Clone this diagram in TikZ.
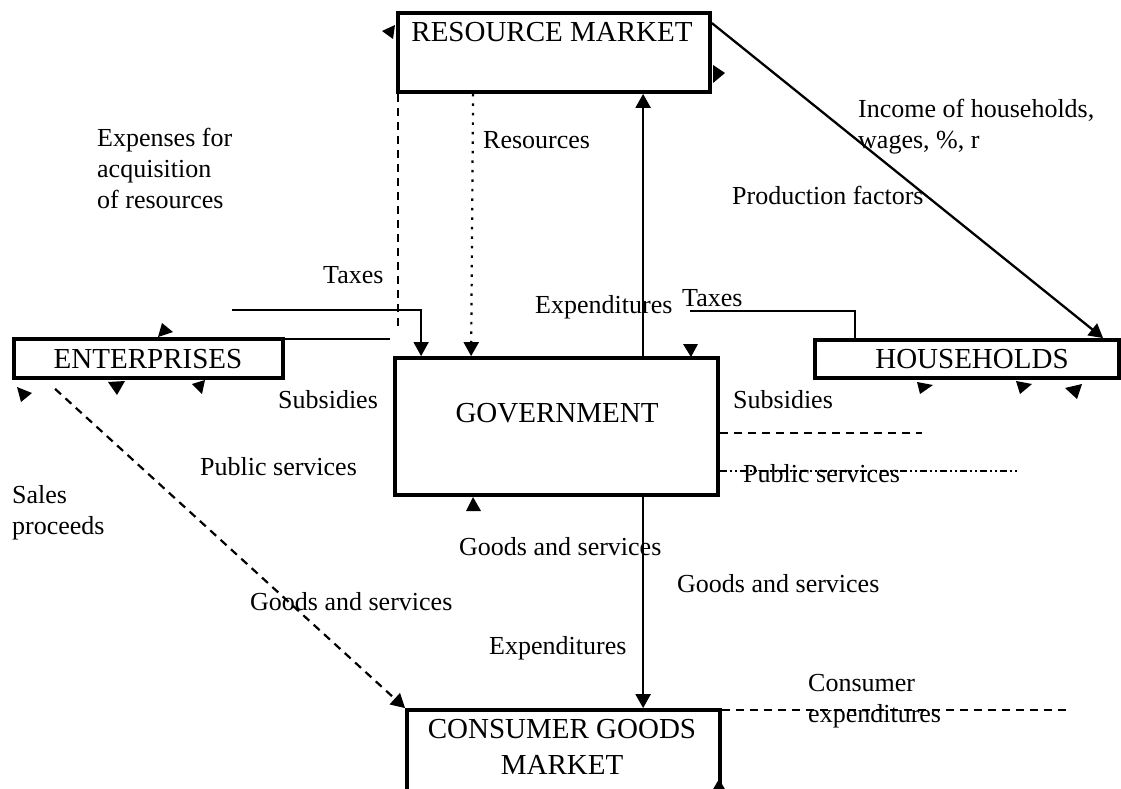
\documentclass[tikz,border=0pt]{standalone}
\usepackage{fontspec}
\setmainfont{Liberation Serif}
\usetikzlibrary{arrows.meta,calc}
\begin{document}
\begin{tikzpicture}[x=1pt,y=-1pt,
  >={Triangle[length=14pt,width=15pt]},
  box/.style={draw,line width=3.8pt,inner sep=0pt},
  boxtxt/.style={font=\fontsize{29}{36}\selectfont,inner sep=0pt,anchor=base},
  lbl/.style={font=\fontsize{26}{31}\selectfont,inner sep=0pt,anchor=base west},
  lblm/.style={font=\fontsize{26}{31}\selectfont,inner sep=0pt,anchor=north west,align=left},
  flow/.style={line width=2.3pt},
  thinflow/.style={line width=1.4pt},
  dsh/.style={line width=2.2pt,dash pattern=on 8pt off 6pt},
  dots/.style={line width=2.2pt,dash pattern=on 2.5pt off 7pt},
  dashdd/.style={line width=2pt,dash pattern=on 7pt off 3pt on 2pt off 3pt on 2pt off 3pt},
  stray/.style={fill=black}]
\fill[white] (0,0) rectangle (1121,789);
\clip (0,0) rectangle (1121,789);
% boxes
\node[box,minimum width=312pt,minimum height=79pt] (rm) at (554,52.5) {};
\node[box,minimum width=269pt,minimum height=39pt] (ent) at (148.5,358.5) {};
\node[box,minimum width=323pt,minimum height=137pt] (gov) at (556.5,426.5) {};
\node[box,minimum width=304pt,minimum height=38pt] (hh) at (967,359) {};
\node[box,minimum width=313pt,minimum height=120pt] (cgm) at (563.5,770) {};
% box texts
\node[boxtxt] (rmt) at (552,42) {RESOURCE MARKET};
\node[boxtxt] (entt) at (148,368) {ENTERPRISES};
\node[boxtxt] (govt) at (557,422) {GOVERNMENT};
\node[boxtxt] (hht) at (972,368) {HOUSEHOLDS};
\node[boxtxt,anchor=north,align=center] (cgmt) at (562,719) {CONSUMER GOODS\\MARKET};
% labels
\node[lblm] (l1) at (97,128) {Expenses for\\acquisition\\of resources};
\node[lbl] (l2) at (483,148) {Resources};
\node[lblm] (l3) at (858,99) {Income of households,\\wages, \%, r};
\node[lbl] (l4) at (732,204) {Production factors};
\node[lbl] (l5) at (323,283) {Taxes};
\node[lbl] (l6) at (535,313) {Expenditures};
\node[lbl] (l7) at (682,306) {Taxes};
\node[lbl] (l8) at (278,408) {Subsidies};
\node[lbl] (l9) at (733,408) {Subsidies};
\node[lbl] (l10) at (200,475) {Public services};
\node[lbl] (l11) at (743,482) {Public services};
\node[lblm] (l12) at (12,485) {Sales\\proceeds};
\node[lbl] (l13) at (459,555) {Goods and services};
\node[lbl] (l14) at (677,592) {Goods and services};
\node[lbl] (l15) at (250,610) {Goods and services};
\node[lbl] (l16) at (489,654) {Expenditures};
\node[lblm] (l17) at (808,674) {Consumer\\expenditures};
% free ends
\coordinate (taxL) at (232,310);
\coordinate (taxR) at (690,311);
\coordinate (entStart) at ($(ent.south west)+(43,9)$);
% connectors
\draw[flow,->] ($(rm.north east)+(0,12)$) -- ($(hh.north west)+(290,0)$);
\draw[dsh] ($(rm.south west)+(1.9,0)$) coordinate (dshTop) -- ++(0,234) coordinate (dshEnd);
\draw[dots,->] ($(rm.south west)+(77,0)$) -- ($(gov.north west)+(78,0)$);
\draw[flow,->] ($(gov.north west)+(250,0)$) -- ($(rm.south west)+(247,0)$);
\draw[flow,->] ($(gov.south west)+(250,0)$) -- ($(cgm.north west)+(238,0)$);
\draw[thinflow,->] (taxL) -| ($(gov.north west)+(28,0)$);
\draw[thinflow] ($(ent.north east)+(0,1.9)$) -- ++(105,0);
\draw[thinflow] (taxR) -| ($(hh.north west)+(42,0)$);
\draw[dsh,->] (entStart) -- (cgm.north west);
\draw[dsh] ($(gov.north east)+(0,77)$) -- ++(202,0);
\draw[dashdd] ($(gov.north east)+(0,115)$) -- ++(299,0);
\draw[dsh] ($(cgm.north east)+(0,1.9)$) -- ++(348,0);
% stray arrowheads
\fill[stray] (382,31) -- (395,25) -- (393,39) -- cycle;
\fill[stray] (713,65) -- (725,73) -- (713,83) -- cycle;
\fill[stray] (162,323) -- (173,332) -- (158,337) -- cycle;
\fill[stray] (17,387) -- (32,393) -- (21,402) -- cycle;
\fill[stray] (108,382) -- (125,381) -- (117,395) -- cycle;
\fill[stray] (192,384) -- (205,380) -- (202,394) -- cycle;
\fill[stray] (683,344) -- (698,344) -- (691,357) -- cycle;
\fill[stray] (466,511) -- (481,511) -- (473,497) -- cycle;
\fill[stray] (917,382) -- (933,385) -- (920,394) -- cycle;
\fill[stray] (1016,381) -- (1032,384) -- (1020,394) -- cycle;
\fill[stray] (1065,388) -- (1082,384) -- (1077,399) -- cycle;
\fill[stray] (719,779) -- (726,791) -- (712,791) -- cycle;
\end{tikzpicture}
\end{document}
